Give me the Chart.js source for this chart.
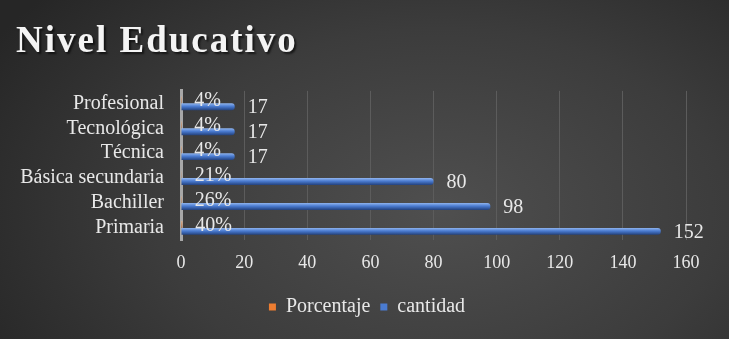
<!DOCTYPE html>
<html>
<head>
<meta charset="utf-8">
<script src="https://cdn.jsdelivr.net/npm/chart.js@4.4.1/dist/chart.umd.min.js"></script>
<style>
  html, body { margin: 0; padding: 0; background: #333; }
  #wrap {
    width: 729px; height: 339px;
    background: radial-gradient(ellipse 520px 330px at 440px 210px, #4f4f4f 0%, #3c3c3c 55%, #262626 100%);
  }
</style>
</head>
<body>
<div id="wrap"><canvas id="nivelChart" width="729" height="339"></canvas></div>
<script>
// Nivel Educativo - horizontal grouped bars

const categories = ['Profesional', 'Tecnológica', 'Técnica', 'Básica secundaria', 'Bachiller', 'Primaria'];
const cantidad = [17, 17, 17, 80, 98, 152];
const porcentaje = [0.04, 0.04, 0.04, 0.21, 0.26, 0.40];
const xTicks = [0, 20, 40, 60, 80, 100, 120, 140, 160];

const TEXT = '#e8e8e8';
const SERIF = "'Liberation Serif'";

// Paint each bar as a little tube (light top, dark bottom)
const tubeBars = {
  id: 'tubeBars',
  beforeDatasetsDraw(chart) {
    const ctx = chart.ctx;
    const shades = [
      ['#f6b27a', '#ed7d31', '#a84f14'],
      ['#8fb4ee', '#4a7bd0', '#23427e']
    ];
    chart.data.datasets.forEach((ds, di) => {
      chart.getDatasetMeta(di).data.forEach((bar) => {
        const top = bar.y - bar.height / 2;
        const g = ctx.createLinearGradient(0, top, 0, top + bar.height);
        g.addColorStop(0, shades[di][0]);
        g.addColorStop(0.45, shades[di][1]);
        g.addColorStop(1, shades[di][2]);
        bar.options.backgroundColor = g;
      });
    });
  }
};

// Value labels drawn just past the end of each bar
const barLabels = {
  id: 'barLabels',
  afterDatasetsDraw(chart) {
    const ctx = chart.ctx;
    ctx.save();
    ctx.font = '20px ' + SERIF;
    ctx.fillStyle = TEXT;
    ctx.textAlign = 'left';
    ctx.textBaseline = 'middle';
    chart.data.datasets.forEach((ds, di) => {
      chart.getDatasetMeta(di).data.forEach((bar, i) => {
        const v = ds.data[i];
        const txt = di === 0 ? Math.round(v * 100) + '%' : String(v);
        ctx.fillText(txt, bar.x + 13, bar.y + 1);
      });
    });
    ctx.restore();
  }
};

// The title in the reference is letter-spaced; wrap the title box draw
const spacedTitle = {
  id: 'spacedTitle',
  afterInit(chart) {
    const tb = chart.titleBlock;
    if (!tb) return;
    const orig = tb.draw.bind(tb);
    tb.draw = function () {
      const ctx = chart.ctx;
      ctx.save();
      ctx.letterSpacing = '2px';
      ctx.shadowColor = 'rgba(0,0,0,0.6)';
      ctx.shadowOffsetX = 2;
      ctx.shadowOffsetY = 2;
      ctx.shadowBlur = 2;
      orig();
      ctx.restore();
    };
  }
};

// Legend in the reference is centred on the whole canvas, not the plot
const legendShift = {
  id: 'legendShift',
  afterLayout(chart) {
    if (!chart.legend) return;
    chart.legend.left += 16;
    chart.legend.right += 16;
  }
};

new Chart(document.getElementById('nivelChart'), {
  type: 'bar',
  data: {
    labels: categories,
    datasets: [
      {
        label: 'Porcentaje',
        data: porcentaje,
        // scriptable so every bar keeps its own options object
        backgroundColor: () => '#ed7d31',
        categoryPercentage: 0.55,
        barPercentage: 1
      },
      {
        label: 'cantidad',
        data: cantidad,
        backgroundColor: () => '#4a7bd0',
        borderRadius: 3,
        borderSkipped: 'start',
        categoryPercentage: 0.55,
        barPercentage: 1
      }
    ]
  },
  plugins: [tubeBars, barLabels, spacedTitle, legendShift],
  options: {
    indexAxis: 'y',
    responsive: false,
    animation: false,
    layout: { padding: { left: 16, right: 43, bottom: 12 } },
    plugins: {
      title: {
        display: true,
        text: 'Nivel Educativo',
        align: 'start',
        color: '#f4f4f4',
        font: { family: SERIF, size: 37, weight: 'bold' },
        padding: { top: 20, bottom: 26.5 }
      },
      legend: {
        position: 'bottom',
        labels: {
          color: TEXT,
          font: { family: SERIF, size: 20 },
          boxWidth: 7,
          boxHeight: 7,
          padding: 10,
          generateLabels: (chart) => chart.data.datasets.map((ds, i) => ({
            text: ds.label,
            fillStyle: i === 0 ? '#ed7d31' : '#4a7bd0',
            strokeStyle: i === 0 ? '#ed7d31' : '#4a7bd0',
            lineWidth: 0,
            fontColor: TEXT,
            hidden: false,
            datasetIndex: i
          }))
        }
      },
      tooltip: { enabled: false }
    },
    scales: {
      x: {
        min: 0,
        max: 160,
        afterBuildTicks: (scale) => {
          scale.ticks = xTicks.map((v) => ({ value: v }));
        },
        grid: { color: '#5c5c5c', lineWidth: 1, drawTicks: false },
        border: { display: false },
        ticks: { color: TEXT, font: { family: SERIF, size: 18 }, padding: 12.5 }
      },
      y: {
        afterFit: (scale) => { scale.width = 165; },
        grid: { display: false, drawTicks: false },
        border: { display: true, color: '#a8a8a8', width: 3 },
        ticks: { color: TEXT, font: { family: SERIF, size: 20 }, padding: 17, autoSkip: false }
      }
    }
  }
});
</script>
</body>
</html>
